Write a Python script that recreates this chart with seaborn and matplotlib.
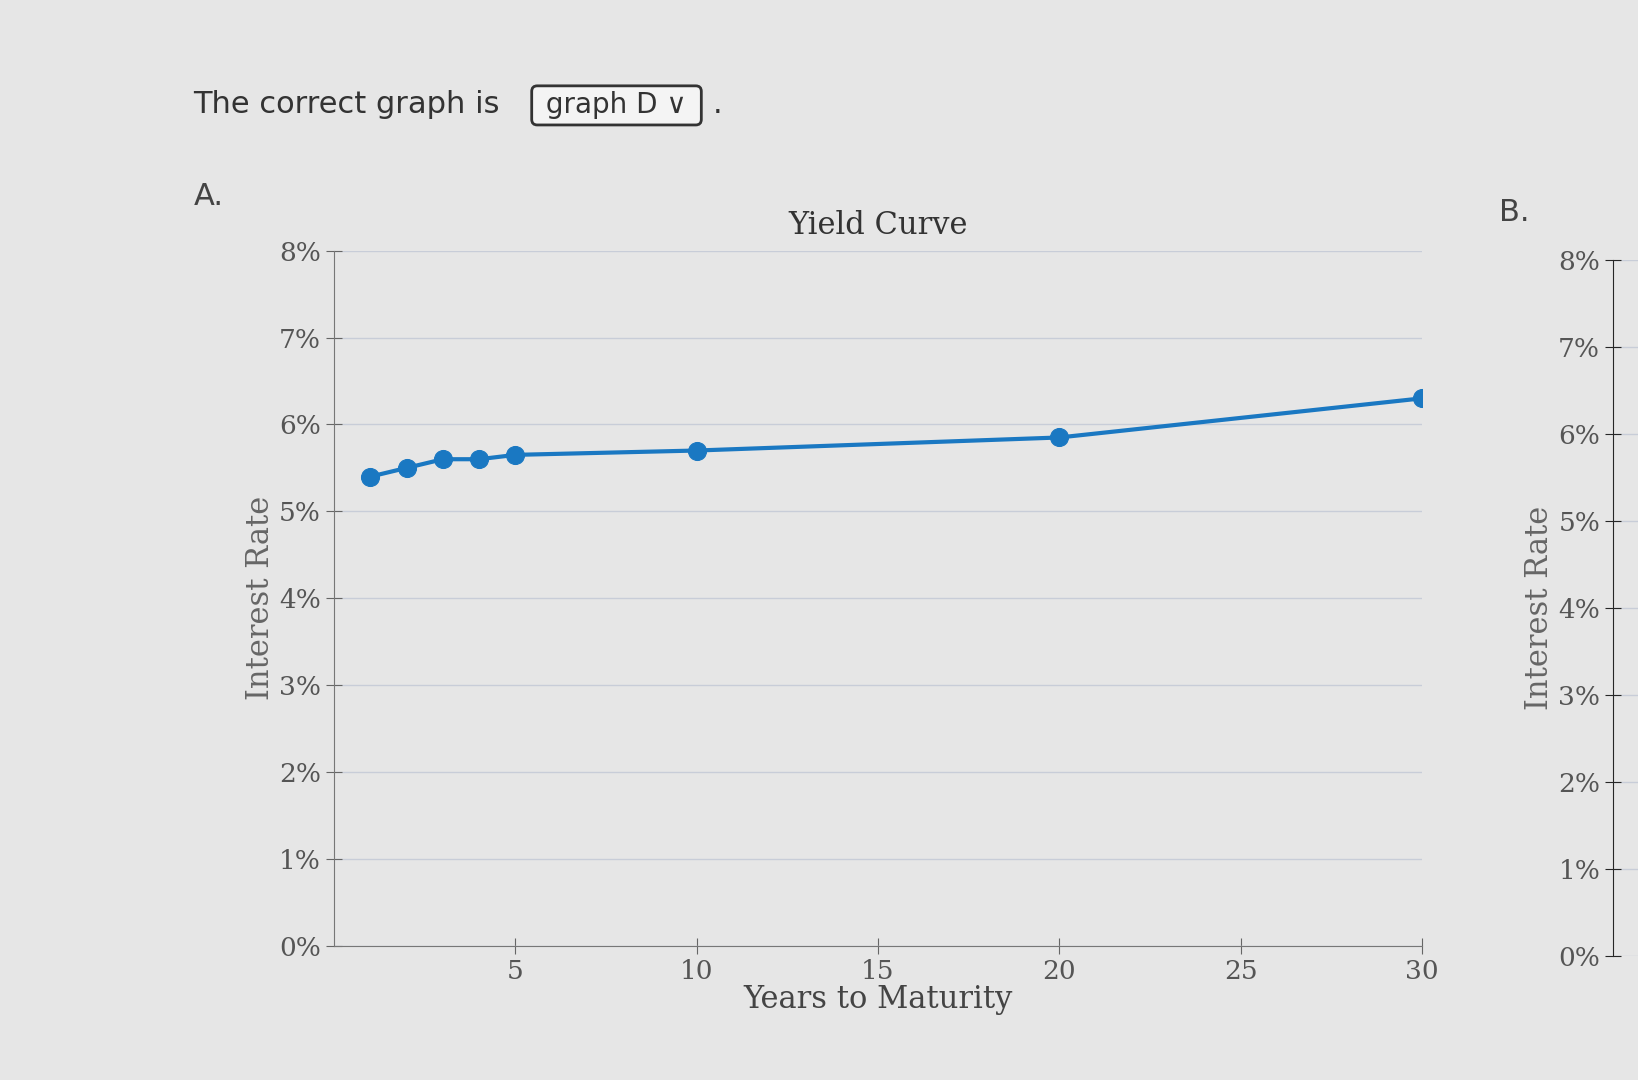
import matplotlib
matplotlib.use("Agg")
import matplotlib.pyplot as plt
import seaborn as sns
import pandas as pd

years = [1, 2, 3, 4, 5, 10, 20, 30]
rates = [5.4, 5.5, 5.6, 5.6, 5.65, 5.7, 5.85, 6.3]
y_ticks = [0, 1, 2, 3, 4, 5, 6, 7, 8]
x_ticks = [5, 10, 15, 20, 25, 30]

df = pd.DataFrame({"years": years, "rate": rates})

sns.set_style("white")
fig = plt.figure(figsize=(16.38, 10.8), dpi=100, facecolor="#e6e6e6")

fig.text(0.118, 0.895, "The correct graph is", fontsize=22, color="#333333", family="DejaVu Sans")
fig.text(0.328, 0.895, " graph D \u2228 ", fontsize=20, color="#333333",
         bbox=dict(boxstyle="round,pad=0.2", fc="#f4f4f4", ec="#333333", lw=2))
fig.text(0.435, 0.895, ".", fontsize=22, color="#333333")
fig.text(0.118, 0.81, "A.", fontsize=22, color="#444444")
fig.text(0.915, 0.795, "B.", fontsize=22, color="#444444")

ax = fig.add_axes([0.204, 0.124, 0.664, 0.644], facecolor="#e6e6e6")
sns.lineplot(data=df, x="years", y="rate", marker="o", markersize=13, color="#1a78c2",
             linewidth=3, markeredgecolor="#1a78c2", ax=ax)
ax.set_xlim(0, 30)
ax.set_ylim(0, 8)
ax.set_yticks(y_ticks)
ax.set_yticklabels([f"{t}%" for t in y_ticks], family="serif", fontsize=19, color="#555555")
ax.set_xticks(x_ticks)
ax.set_xticklabels([str(t) for t in x_ticks], family="serif", fontsize=19, color="#555555")
ax.grid(axis="y", color="#c8cdd8", lw=1)
ax.tick_params(axis="both", direction="inout", length=12, color="#666666", left=True, bottom=True)
for s in ["top", "right"]:
    ax.spines[s].set_visible(False)
for s in ["left", "bottom"]:
    ax.spines[s].set_color("#777777")
ax.set_title("Yield Curve", family="serif", fontsize=22, color="#333333", pad=12)
ax.set_xlabel("Years to Maturity", family="serif", fontsize=22, color="#444444", labelpad=0)
ax.set_ylabel("Interest Rate", family="serif", fontsize=22, color="#666666", labelpad=2)

# partial graph B at right edge
axb = fig.add_axes([0.985, 0.115, 0.3, 0.644], facecolor="#e6e6e6")
axb.set_ylim(0, 8)
axb.set_yticks(y_ticks)
axb.set_yticklabels([f"{t}%" for t in y_ticks], family="serif", fontsize=19, color="#555555")
axb.set_xticks([])
axb.grid(axis="y", color="#c8cdd8", lw=1)
axb.tick_params(axis="y", direction="inout", length=12, left=True)
axb.set_ylabel("Interest Rate", family="serif", fontsize=22, color="#666666", labelpad=2)
for s in ["top", "right", "bottom"]:
    axb.spines[s].set_visible(False)

fig.savefig("out.png", dpi=100, facecolor=fig.get_facecolor())
